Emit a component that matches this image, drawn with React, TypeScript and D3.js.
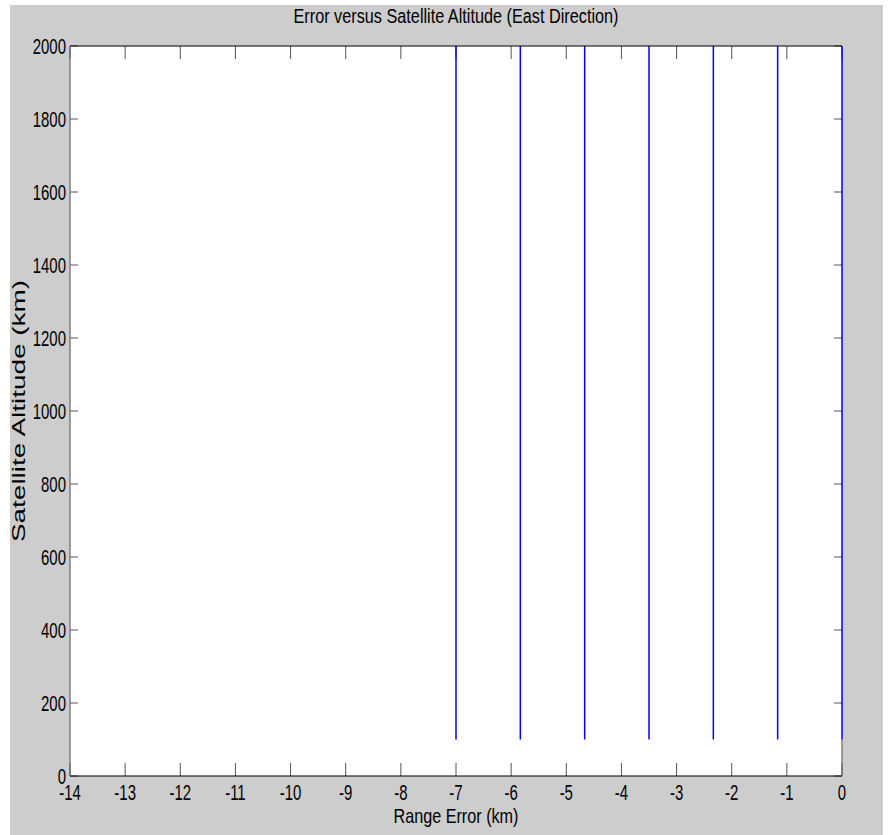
import React from "react";
import * as d3 from "d3";

// Range error offsets (km) at which each error trace sits
const rangeErrors = [-7, -5.833, -4.667, -3.5, -2.333, -1.167, 0];
// Satellite altitude span (km) covered by every trace
const altitudeSpan = [100, 2000];
// Axis ticks
const xTicks = [-14, -13, -12, -11, -10, -9, -8, -7, -6, -5, -4, -3, -2, -1, 0];
const yTicks = [0, 200, 400, 600, 800, 1000, 1200, 1400, 1600, 1800, 2000];

const W = 894;
const H = 835;
const plot = { left: 70, right: 842, top: 46, bottom: 776 };
const FONT = "'Liberation Sans', Arial, sans-serif";
const NARROW = 0.68;

export default function App() {
  const x = d3.scaleLinear().domain([-14, 0]).range([plot.left, plot.right]);
  const y = d3.scaleLinear().domain([0, 2000]).range([plot.bottom, plot.top]);

  return (
    <svg
      width={W}
      height={H}
      style={{ position: "absolute", left: 0, top: 0, background: "#fff" }}
    >
      {/* figure background */}
      <rect x={10} y={5} width={873} height={830} fill="#cdcdcd" />
      {/* axes area */}
      <rect
        x={plot.left}
        y={plot.top}
        width={plot.right - plot.left}
        height={plot.bottom - plot.top}
        fill="#fff"
      />

      {/* x ticks, top and bottom, pointing inward */}
      {xTicks.map((t) => (
        <g key={`xt${t}`} stroke="#555" strokeWidth={1}>
          <line x1={x(t)} x2={x(t)} y1={plot.bottom} y2={plot.bottom - 13} />
          <line x1={x(t)} x2={x(t)} y1={plot.top} y2={plot.top + 13} />
        </g>
      ))}
      {/* y ticks, left and right, pointing inward */}
      {yTicks.map((t) => (
        <g key={`yt${t}`} stroke="#555" strokeWidth={1}>
          <line x1={plot.left} x2={plot.left + 8} y1={y(t)} y2={y(t)} />
          <line x1={plot.right} x2={plot.right - 8} y1={y(t)} y2={y(t)} />
        </g>
      ))}

      {/* error traces */}
      {rangeErrors.map((e) => (
        <line
          key={`e${e}`}
          x1={x(e)}
          x2={x(e)}
          y1={y(altitudeSpan[0])}
          y2={y(altitudeSpan[1])}
          stroke="#0000ff"
          strokeWidth={1.5}
        />
      ))}

      {/* axis box */}
      <line x1={plot.left} x2={plot.right} y1={plot.top} y2={plot.top} stroke="#000" strokeWidth={1.2} />
      <line x1={plot.left} x2={plot.right} y1={plot.bottom} y2={plot.bottom} stroke="#000" strokeWidth={1.2} />
      <line x1={plot.left} x2={plot.left} y1={plot.top} y2={plot.bottom} stroke="#666" strokeWidth={1.2} />
      <line
        x1={plot.right}
        x2={plot.right}
        y1={y(altitudeSpan[0])}
        y2={plot.bottom}
        stroke="#666"
        strokeWidth={1.2}
      />

      {/* x tick labels */}
      {xTicks.map((t) => (
        <text
          key={`xl${t}`}
          transform={`translate(${x(t)},${800}) scale(${NARROW},1)`}
          textAnchor="middle"
          fontFamily={FONT}
          fontSize={22}
          fill="#000"
        >
          {t}
        </text>
      ))}
      {/* y tick labels */}
      {yTicks.map((t) => (
        <text
          key={`yl${t}`}
          transform={`translate(${66},${y(t) + 8}) scale(${NARROW},1)`}
          textAnchor="end"
          fontFamily={FONT}
          fontSize={22}
          fill="#000"
        >
          {t}
        </text>
      ))}

      {/* title */}
      <text
        x={(plot.left + plot.right) / 2}
        y={23}
        textAnchor="middle"
        fontFamily={FONT}
        fontSize={19.5}
        textLength={325}
        lengthAdjust="spacingAndGlyphs"
        fill="#000"
      >
        Error versus Satellite Altitude (East Direction)
      </text>

      {/* x axis label */}
      <text
        x={(plot.left + plot.right) / 2}
        y={823}
        textAnchor="middle"
        fontFamily={FONT}
        fontSize={21}
        textLength={125}
        lengthAdjust="spacingAndGlyphs"
        fill="#000"
      >
        Range Error (km)
      </text>

      {/* y axis label */}
      <text
        transform={`translate(25,${(plot.top + plot.bottom) / 2}) rotate(-90)`}
        textAnchor="middle"
        fontFamily={FONT}
        fontSize={18}
        textLength={262}
        lengthAdjust="spacingAndGlyphs"
        fill="#000"
      >
        Satellite Altitude (km)
      </text>
    </svg>
  );
}
